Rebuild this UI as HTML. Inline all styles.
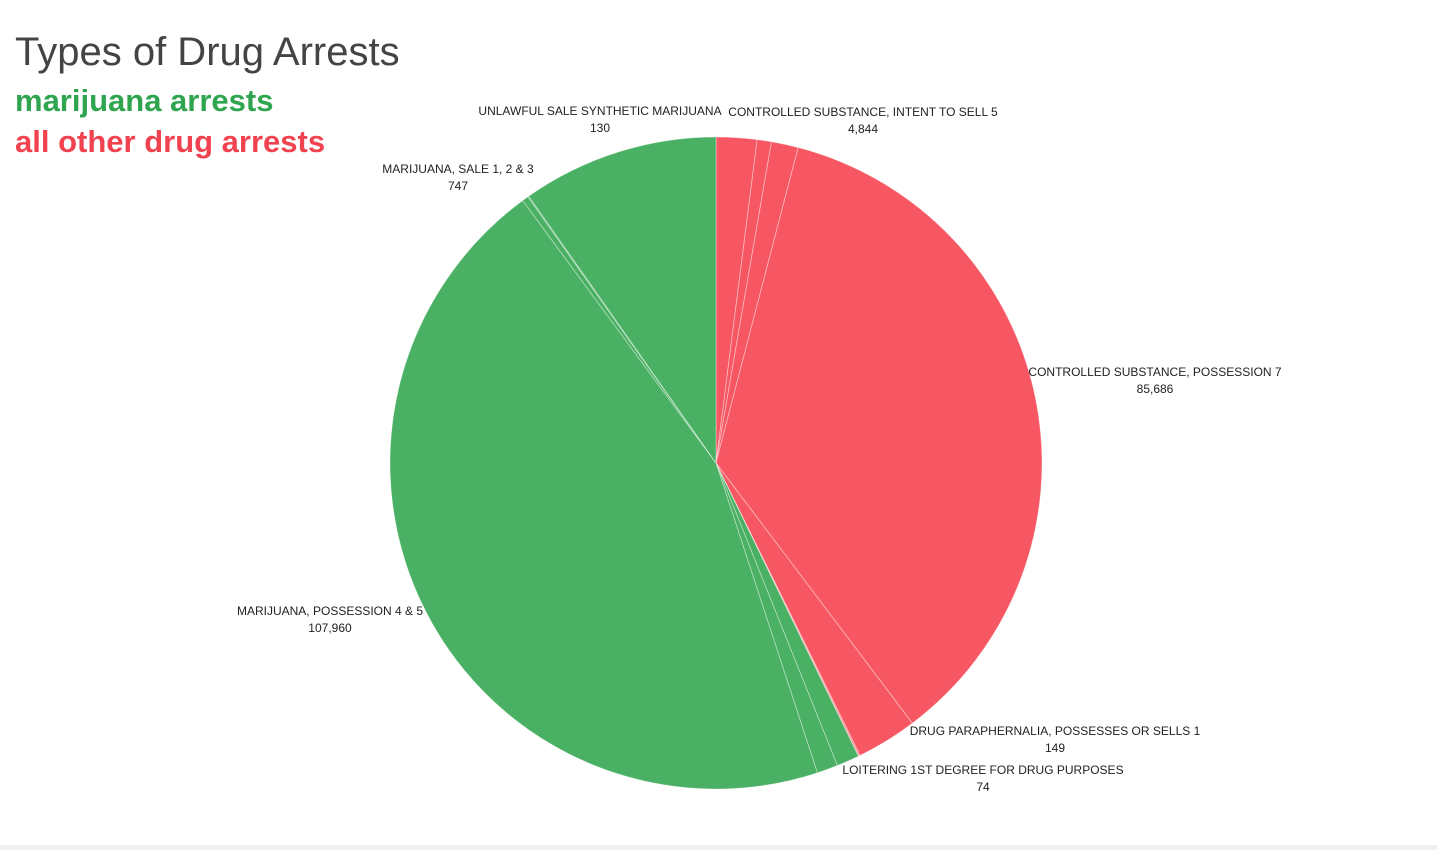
<!DOCTYPE html>
<html><head><meta charset="utf-8"><style>
html,body{margin:0;padding:0;background:#fff;}
body{width:1437px;height:850px;position:relative;overflow:hidden;font-family:"Liberation Sans",sans-serif;}
.t{position:absolute;left:15px;white-space:nowrap;}
</style></head><body>
<div class="t" style="top:30px;font-size:40px;color:#444;">Types of Drug Arrests</div>
<div class="t" style="top:83px;font-size:31px;font-weight:bold;color:#2ea54e;">marijuana arrests</div>
<div class="t" style="top:124px;font-size:31px;font-weight:bold;color:#f0434f;">all other drug arrests</div>
<div style="position:absolute;left:0;top:845px;width:1437px;height:5px;background:#f0f0f0"></div>
<svg id="pie" width="1437" height="850" style="position:absolute;left:0;top:0"></svg>
<script>
const categories=["CONTROLLED SUBSTANCE, INTENT TO SELL 5","OTHER A","OTHER B","CONTROLLED SUBSTANCE, POSSESSION 7","OTHER C","DRUG PARAPHERNALIA,   POSSESSES OR SELLS 1","LOITERING 1ST DEGREE FOR DRUG PURPOSES","MARIJUANA OTHER A","MARIJUANA OTHER B","MARIJUANA, POSSESSION 4 & 5","MARIJUANA, SALE 1, 2 & 3","UNLAWFUL SALE SYNTHETIC MARIJUANA","MARIJUANA OTHER C"];
const values=[4844,1700,3200,85686,7200,149,74,2700,2500,107960,747,130,23400];
const groups=["o","o","o","o","o","o","o","m","m","m","m","m","m"];
const showLabel=[true,false,false,true,false,true,true,false,false,true,true,true,false];
const labelPos={0:[863,112],3:[1155,372],5:[1055,731],6:[983,770],9:[330,611],10:[458,169],11:[600,111]};
const cx=716,cy=463,R=326;
const svg=document.getElementById('pie');
const NS='http://www.w3.org/2000/svg';
const total=values.reduce((a,b)=>a+b,0);
function pt(a){return [cx+R*Math.sin(a),cy-R*Math.cos(a)];}
let acc=0;
values.forEach((v,i)=>{
  const a0=acc/total*2*Math.PI; acc+=v; const a1=acc/total*2*Math.PI;
  const p0=pt(a0),p1=pt(a1);
  const p=document.createElementNS(NS,'path');
  p.setAttribute('d',`M${cx},${cy}L${p0[0]},${p0[1]}A${R},${R} 0 ${a1-a0>Math.PI?1:0} 1 ${p1[0]},${p1[1]}Z`);
  p.setAttribute('fill',groups[i]==='m'?'#4ab063':'#f65762');
  p.setAttribute('stroke','rgba(255,255,255,0.45)');
  p.setAttribute('stroke-width','0.8');
  
  
  svg.appendChild(p);
  if(showLabel[i]&&labelPos[i]){
    const [lx,ly]=labelPos[i];
    const t=document.createElementNS(NS,'text');
    t.setAttribute('x',lx);t.setAttribute('y',ly+4);
    t.setAttribute('text-anchor','middle');t.setAttribute('font-size','12');
    t.setAttribute('fill','#222');t.setAttribute('font-family','Liberation Sans, sans-serif');
    
    
    t.setAttribute('xml:space','preserve');
    const s1=document.createElementNS(NS,'tspan');s1.setAttribute('x',lx);s1.textContent=categories[i];
    const s2=document.createElementNS(NS,'tspan');s2.setAttribute('x',lx);s2.setAttribute('dy','17');s2.textContent=values[i].toLocaleString('en-US');
    t.appendChild(s1);t.appendChild(s2);svg.appendChild(t);
  }
});
</script>
</body></html>
